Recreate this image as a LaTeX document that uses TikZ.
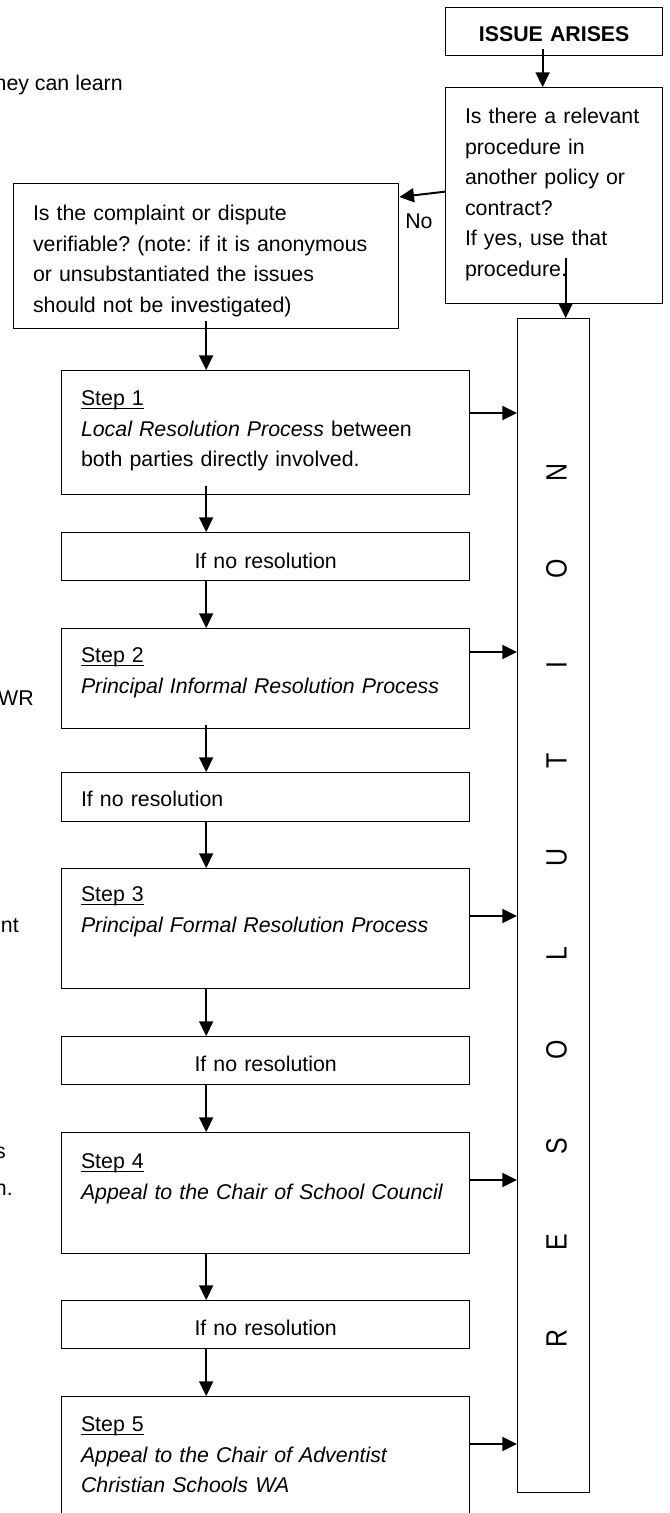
\documentclass[tikz,border=0pt]{standalone}
\usepackage{fontspec}
\setmainfont{Liberation Sans}
\usepackage{graphicx}
\usepackage{tikz}
\usetikzlibrary{arrows.meta,calc}
\usetikzlibrary{positioning}
\frenchspacing

\newcommand{\stepuline}[1]{\setbox0\hbox{#1}\rlap{\rule[-2.6pt]{\wd0}{0.8pt}}#1}
\newcommand{\resletter}[1]{\makebox[72.1pt]{\scalebox{0.85}[1]{#1}}}

\begin{document}
\begin{tikzpicture}[x=0.75pt, y=-0.75pt,
                font=\fontsize{16pt}{22.9pt}\selectfont,
                box/.style = {draw, line width=1pt, anchor=north west, inner xsep=14.5pt, inner ysep=0pt, align=left,
                              execute at begin node={\hyphenpenalty=10000\exhyphenpenalty=10000\relax}},
                stepbox/.style = {box, text width=277pt},
                arr/.style = {-{Triangle[length=11pt,width=10.5pt]}, line width=1.5pt}
            ]
            \useasboundingbox (0,0) rectangle (669,1513);
            \node[box, text width=133.75pt, align=center, text height=25.5pt, text depth=10.5pt, font=\fontsize{16pt}{22.9pt}\selectfont\bfseries] (issue) at (445,7) {ISSUE ARISES};
            \node[box, text width=133.75pt, text height=27pt, text depth=135pt] (proc) at (445,87) {Is there a relevant\\procedure in\\another policy or\\contract?\\If yes, use that\\procedure.};
            \node[box, text width=259.75pt, text height=27.75pt, text depth=81pt] (verif) at (13,183) {Is the complaint or dispute\\verifiable? (note: if it is anonymous\\or unsubstantiated the issues\\should not be investigated)};
            \node[draw, line width=0.8pt, anchor=north west, inner sep=0pt, minimum width=54pt, minimum height=880.5pt] (col) at (517,318) {};
            \node[rotate=90, inner sep=0pt, font=\fontsize{22pt}{22pt}\selectfont] (resword) at ($(col.center)+(3,0)$) {\resletter{R}\resletter{E}\resletter{S}\resletter{O}\resletter{L}\resletter{U}\resletter{T}\resletter{I}\resletter{O}\resletter{N}};
            \node[stepbox, text height=26.25pt, text depth=66.75pt] (s1) at (61,370) {\stepuline{Step 1}\\\textit{Local Resolution Process} between\\both parties directly involved.};
            \node[stepbox, align=center, text height=27pt, text depth=9pt, below=27.5pt of s1] (n1) {If no resolution};
            \node[stepbox, text height=25.5pt, text depth=49.5pt, below=35pt of n1] (s2) {\stepuline{Step 2}\\\textit{Principal Informal Resolution Process}};
            \node[stepbox, text height=25.5pt, text depth=11.25pt, below=32pt of s2] (n2) {If no resolution};
            \node[stepbox, text height=24.75pt, text depth=65.25pt, below=34.25pt of n2] (s3) {\stepuline{Step 3}\\\textit{Principal Formal Resolution Process}};
            \node[stepbox, align=center, text height=26.25pt, text depth=9.75pt, below=35pt of s3] (n3) {If no resolution};
            \node[stepbox, text height=27pt, text depth=63.75pt, below=35pt of n3] (s4) {\stepuline{Step 4}\\\textit{Appeal to the Chair of School Council}};
            \node[stepbox, align=center, text height=26.25pt, text depth=9.75pt, below=34.25pt of s4] (n4) {If no resolution};
            \node[stepbox, text height=26.25pt, text depth=74.25pt, below=35pt of n4] (s5) {\stepuline{Step 5}\\\textit{Appeal to the Chair of Adventist}\\\textit{Christian Schools WA}};
            \node[anchor=base east, inner sep=0pt] (frag1) at (123,90) {hey can learn};
            \node[anchor=base east, inner sep=0pt] (frag2) at (34,705) {WR};
            \node[anchor=base east, inner sep=0pt] (frag3) at (19,932) {nt};
            \node[anchor=base east, inner sep=0pt] (frag4) at (6,1158) {s};
            \node[anchor=base east, inner sep=0pt] (frag5) at (13,1195) {n.};
            \draw [arr] ($(issue.south)+(-11.5,-7)$) coordinate (c1) -- (c1 |- proc.north);
            \draw [arr] ($(proc.south)+(11.5,-46)$) coordinate (c2) -- (c2 |- col.north);
            \draw [arr] ($(proc.west)+(0,-4)$) -- node[below=10pt, pos=0.57] (nolabel) {No} ($(verif.north east)+(0,14)$);
            \draw [arr] ($(verif.south)+(0,-8)$) coordinate (spine) -- (spine |- s1.north);
            \draw [arr] ($(spine |- s1.south)+(0,-9)$) -- (spine |- n1.north);
            \draw [arr] (spine |- n1.south) -- (spine |- s2.north);
            \draw [arr] ($(spine |- s2.south)+(0,-4)$) -- (spine |- n2.north);
            \draw [arr] (spine |- n2.south) -- (spine |- s3.north);
            \draw [arr] (spine |- s3.south) -- (spine |- n3.north);
            \draw [arr] (spine |- n3.south) -- (spine |- s4.north);
            \draw [arr] (spine |- s4.south) -- (spine |- n4.north);
            \draw [arr] (spine |- n4.south) -- (spine |- s5.north);
            \draw [arr] ($(s1.north east)+(0,43)$) coordinate (r1) -- (r1 -| col.west);
            \draw [arr] ($(s2.north east)+(0,24)$) coordinate (r2) -- (r2 -| col.west);
            \draw [arr] ($(s3.north east)+(0,48)$) coordinate (r3) -- (r3 -| col.west);
            \draw [arr] ($(s4.north east)+(0,48)$) coordinate (r4) -- (r4 -| col.west);
            \draw [arr] ($(s5.north east)+(0,48)$) coordinate (r5) -- (r5 -| col.west);
        \end{tikzpicture}
\end{document}
